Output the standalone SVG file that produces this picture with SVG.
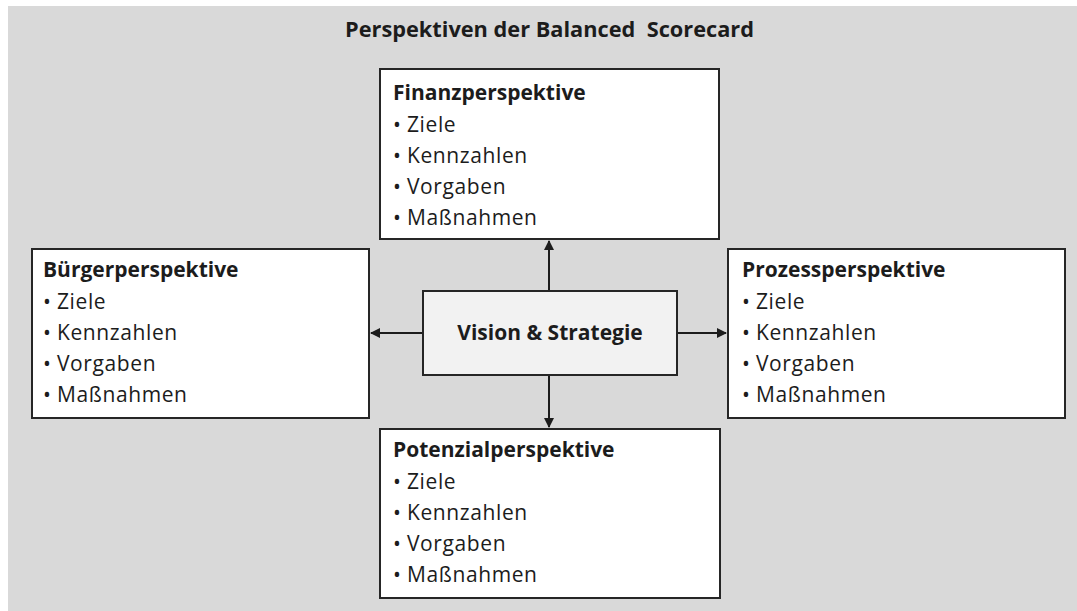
<svg xmlns="http://www.w3.org/2000/svg" width="1077" height="611" viewBox="0 0 1077 611">
  <defs>
    <style>
      .box { fill: #ffffff; stroke: #262626; stroke-width: 2; }
      .core { fill: #f2f2f2; stroke: #262626; stroke-width: 2; }
      .head { font-family: "Open Sans", "Liberation Sans", sans-serif; font-weight: bold; font-size: 21px; fill: #1c1c1c; }
      .item { font-family: "Open Sans", "Liberation Sans", sans-serif; font-size: 21px; fill: #1c1c1c; letter-spacing: 0.6px; }
      .title { font-family: "Open Sans", "Liberation Sans", sans-serif; font-weight: bold; font-size: 21px; fill: #1c1c1c; white-space: pre; }
      .conn { stroke: #1c1c1c; stroke-width: 2; fill: none; }
    </style>
    <marker id="arrow" viewBox="0 0 10 10" refX="9" refY="5" markerWidth="5" markerHeight="5" orient="auto" markerUnits="strokeWidth">
      <path d="M0,0 L10,5 L0,10 z" fill="#1c1c1c"/>
    </marker>
  </defs>

  <rect x="0" y="0" width="1077" height="611" fill="#ffffff"/>
  <rect x="8" y="6" width="1069" height="605" fill="#d9d9d9"/>

  <text class="title" x="345" y="37" textLength="409" lengthAdjust="spacingAndGlyphs" xml:space="preserve">Perspektiven der Balanced  Scorecard</text>

  <g id="connectors">
    <line class="conn" x1="549" y1="291" x2="549" y2="241" marker-end="url(#arrow)"/>
    <line class="conn" x1="549" y1="375" x2="549" y2="427" marker-end="url(#arrow)"/>
    <line class="conn" x1="423" y1="333" x2="371" y2="333" marker-end="url(#arrow)"/>
    <line class="conn" x1="677" y1="333" x2="726" y2="333" marker-end="url(#arrow)"/>
  </g>

  <g id="finanz">
    <rect class="box" x="380" y="69" width="339" height="170"/>
    <text class="head" x="393" y="100">Finanzperspektive</text>
    <text class="item" x="393" y="132">•<tspan x="407">Ziele</tspan></text>
    <text class="item" x="393" y="163">•<tspan x="407">Kennzahlen</tspan></text>
    <text class="item" x="393" y="194">•<tspan x="407">Vorgaben</tspan></text>
    <text class="item" x="393" y="225">•<tspan x="407">Maßnahmen</tspan></text>
  </g>

  <g id="buerger">
    <rect class="box" x="32" y="249" width="337" height="169"/>
    <text class="head" x="43" y="277">Bürgerperspektive</text>
    <text class="item" x="43" y="309">•<tspan x="57">Ziele</tspan></text>
    <text class="item" x="43" y="340">•<tspan x="57">Kennzahlen</tspan></text>
    <text class="item" x="43" y="371">•<tspan x="57">Vorgaben</tspan></text>
    <text class="item" x="43" y="402">•<tspan x="57">Maßnahmen</tspan></text>
  </g>

  <g id="vision">
    <rect class="core" x="423" y="291" width="254" height="84"/>
    <text class="head" x="550" y="340" text-anchor="middle">Vision &amp; Strategie</text>
  </g>

  <g id="prozess">
    <rect class="box" x="728" y="249" width="337" height="169"/>
    <text class="head" x="742" y="277">Prozessperspektive</text>
    <text class="item" x="742" y="309">•<tspan x="756">Ziele</tspan></text>
    <text class="item" x="742" y="340">•<tspan x="756">Kennzahlen</tspan></text>
    <text class="item" x="742" y="371">•<tspan x="756">Vorgaben</tspan></text>
    <text class="item" x="742" y="402">•<tspan x="756">Maßnahmen</tspan></text>
  </g>

  <g id="potenzial">
    <rect class="box" x="380" y="429" width="340" height="169"/>
    <text class="head" x="393" y="457">Potenzialperspektive</text>
    <text class="item" x="393" y="489">•<tspan x="407">Ziele</tspan></text>
    <text class="item" x="393" y="520">•<tspan x="407">Kennzahlen</tspan></text>
    <text class="item" x="393" y="551">•<tspan x="407">Vorgaben</tspan></text>
    <text class="item" x="393" y="582">•<tspan x="407">Maßnahmen</tspan></text>
  </g>
</svg>
